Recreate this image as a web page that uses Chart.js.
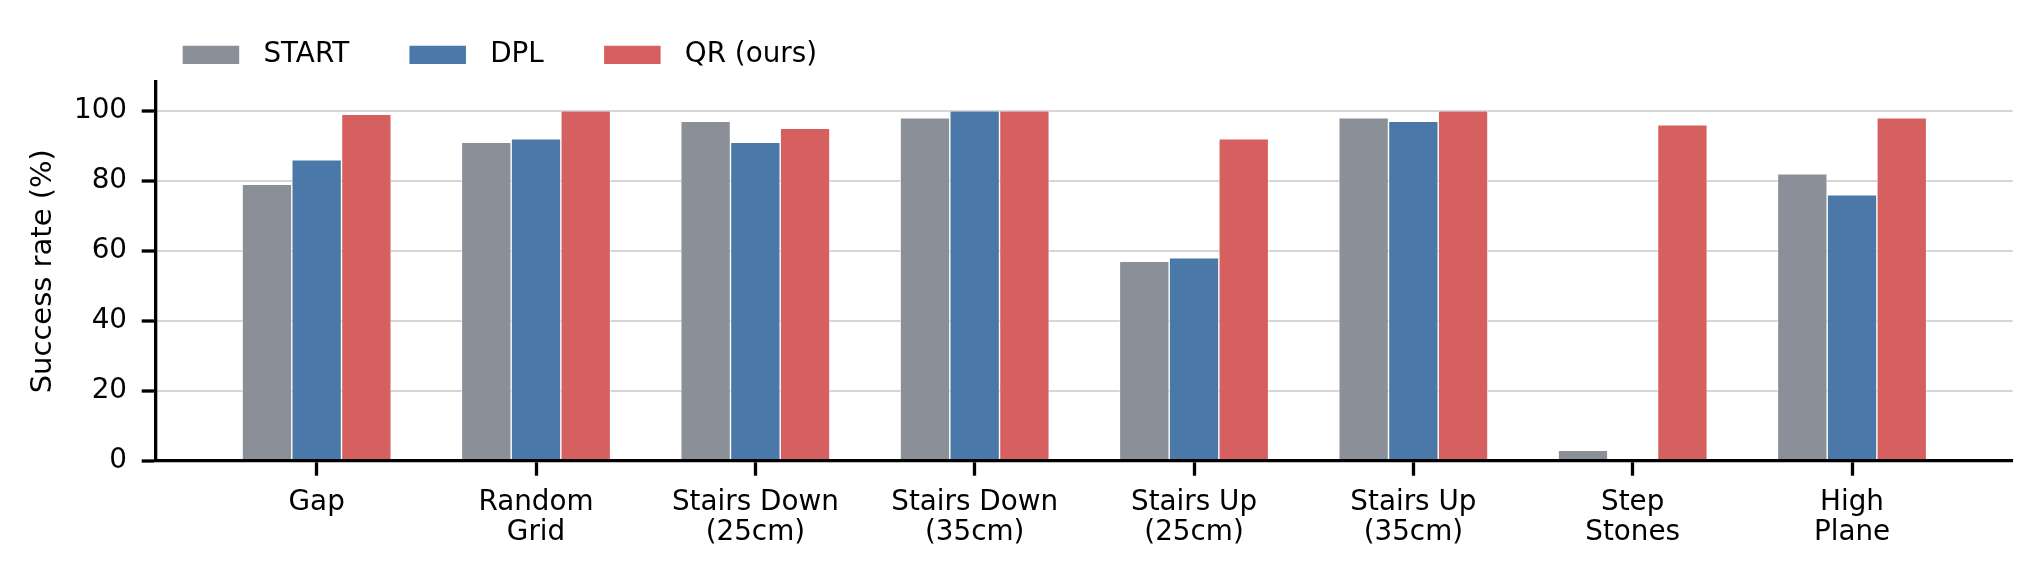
<!DOCTYPE html>
<html>
<head>
<meta charset="utf-8">
<script src="https://cdn.jsdelivr.net/npm/chart.js@4"></script>
<style>
  html, body { margin: 0; padding: 0; background: #ffffff; }
  #wrap { width: 2041px; height: 576px; position: relative; }
</style>
</head>
<body>
<div id="wrap"><canvas id="c"></canvas></div>
<script>
// ---- data ----
const categories = [
  ['Gap'],
  ['Random', 'Grid'],
  ['Stairs Down', '(25cm)'],
  ['Stairs Down', '(35cm)'],
  ['Stairs Up', '(25cm)'],
  ['Stairs Up', '(35cm)'],
  ['Step', 'Stones'],
  ['High', 'Plane']
];
const seriesNames = ['START', 'DPL', 'QR (ours)'];
const startValues = [79, 91, 97, 98, 57, 98, 3, 82];
const dplValues   = [86, 92, 91, 100, 58, 97, 0, 76];
const qrValues    = [99, 100, 95, 100, 92, 100, 96, 98];
const yTickValues = [0, 20, 40, 60, 80, 100];
const yTitle = 'Success rate (%)';

// ---- styles ----
const seriesColors = ['#8b8f98', '#4a78a8', '#d65f5f'];
const FONT = 'DejaVu Sans';
Chart.defaults.font.family = FONT;
Chart.defaults.color = '#000000';

const seriesValues = [startValues, dplValues, qrValues];
const datasets = seriesNames.map((name, k) => ({
  label: name,
  data: seriesValues[k].map((v, i) => ({ x: i, y: v })),
  backgroundColor: seriesColors[k],
  borderColor: '#ffffff',
  borderWidth: 0.7,
  borderSkipped: 'start',
  categoryPercentage: 0.68,
  barPercentage: 1.0
}));

const legendPlacement = {
  id: 'legendPlacement',
  afterLayout(chart) {
    const lg = chart.legend;
    if (!lg) return;
    lg.left += 122.4;
    lg.right += 122.4;
    lg.top -= 14.5;
  }
};

new Chart(document.getElementById('c'), {
  type: 'bar',
  data: { datasets },
  plugins: [legendPlacement],
  options: {
    responsive: true,
    maintainAspectRatio: false,
    animation: false,
    devicePixelRatio: 1,
    layout: { padding: { left: 0, right: 28.3, top: 0, bottom: 0 } },
    plugins: {
      tooltip: { enabled: false },
      legend: {
        position: 'top',
        align: 'start',
        maxHeight: 81.7,
        labels: {
          boxWidth: 77.1,
          boxHeight: 38.9,
          padding: 50,
          color: '#000000',
          font: { family: FONT, size: 27.8 },
          generateLabels(chart) {
            const items = Chart.defaults.plugins.legend.labels.generateLabels(chart);
            items.forEach(it => { it.lineWidth = 20.6; it.strokeStyle = '#ffffff'; });
            return items;
          }
        }
      }
    },
    scales: {
      x: {
        type: 'linear',
        bounds: 'data',
        offset: false,
        min: -0.7325,
        max: 7.7325,
        afterBuildTicks: s => { s.ticks = categories.map((c, i) => ({ value: i })); },
        afterFit: s => { s.height = 115.3; },
        grid: { offset: false, drawOnChartArea: false, tickLength: 15, tickColor: '#000000', tickWidth: 3.3 },
        border: { color: '#000000', width: 3.3, z: 1 },
        ticks: {
          autoSkip: false,
          maxRotation: 0,
          minRotation: 0,
          padding: 12.5,
          color: '#000000',
          font: { family: FONT, size: 27.8, lineHeight: 1.08 },
          callback: v => categories[v]
        }
      },
      y: {
        type: 'linear',
        bounds: 'data',
        min: 0,
        max: 108.3,
        afterBuildTicks: s => { s.ticks = yTickValues.map(v => ({ value: v })); },
        afterFit: s => { s.width = 156; },
        grid: { color: '#d6d6d6', lineWidth: 2, tickLength: 14.3, tickColor: '#000000', tickWidth: 3.3 },
        border: { color: '#000000', width: 3.3, z: 1 },
        ticks: { padding: 14.7, color: '#000000', font: { family: FONT, size: 27.8 } },
        title: {
          display: true,
          text: yTitle,
          color: '#000000',
          font: { family: FONT, size: 29 },
          padding: { top: 26, bottom: 0 }
        }
      }
    }
  }
});
</script>
</body>
</html>
